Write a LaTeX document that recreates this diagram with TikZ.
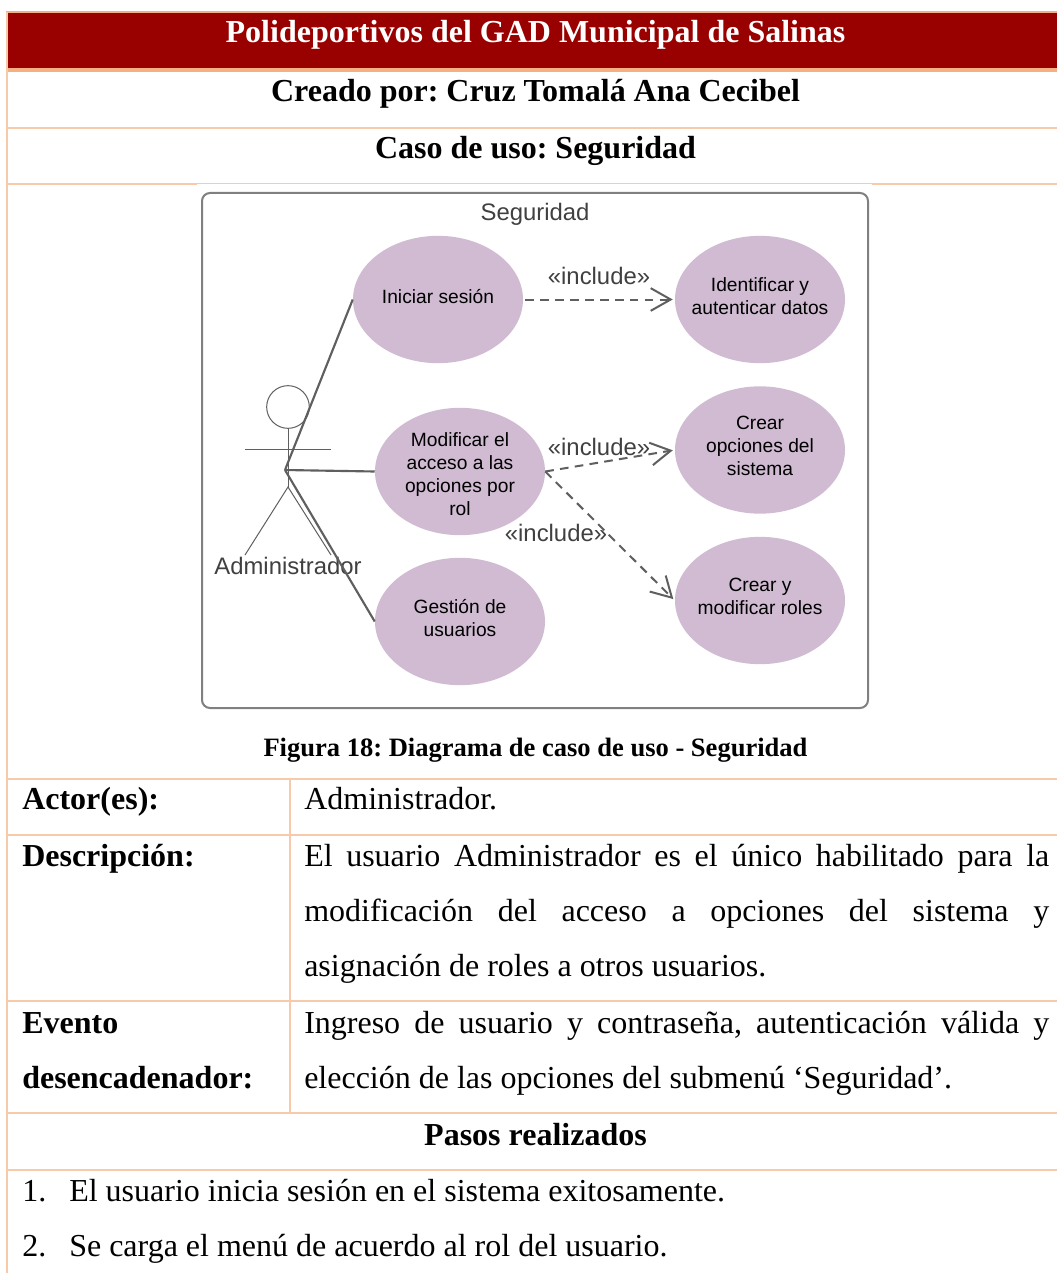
\documentclass[tikz,border=0pt]{standalone}
\usepackage{fontspec}
\setmainfont{Liberation Serif}
\setsansfont{Liberation Sans}
\usepackage{xcolor}
\usepackage{tikz}
\usetikzlibrary{shapes,positioning}
\usetikzlibrary{calc}
\usetikzlibrary{arrows.meta}
\definecolor{rojoGAD}{HTML}{990000}
\definecolor{durazno}{HTML}{F7CAAC}
\definecolor{duraznoF}{HTML}{F4B083}
\definecolor{malva}{HTML}{D0BBD2}
\definecolor{lineaUML}{HTML}{5F5F5F}
\tikzset{
	regla/.style={durazno,line width=1.5pt},
	titulo/.style={font=\fontsize{24}{28}\selectfont\bfseries,anchor=base},
	etiqueta/.style={font=\fontsize{24}{28}\selectfont\bfseries,anchor=base west,inner sep=0pt},
	cuerpo/.style={font=\fontsize{24}{28}\selectfont,anchor=base west,inner sep=0pt},
	caso/.style={ellipse,fill=malva,minimum width=127.5pt,minimum height=95.5pt,inner xsep=-20pt,inner ysep=0pt,font=\sffamily\fontsize{14.4}{17.3}\selectfont},
	diag/.style={font=\sffamily\fontsize{17.9}{20}\selectfont,text=black!75,inner sep=0pt},
	asoc/.style={lineaUML,line width=1.6pt},
	dep/.style={lineaUML,line width=1.5pt,shorten >=1.5pt,dash pattern=on 6.5pt off 4.7pt,-{Straight Barb[length=15pt,width=17pt,line width=1.5pt]}},
	figura/.style={lineaUML,line width=0.75pt}
}
\newcommand{\textocaso}[2]{\raisebox{#1}[0pt][0pt]{\begin{tabular}{@{}c@{}}#2\end{tabular}}}
\frenchspacing
\begin{document}
\begin{tikzpicture}[x=0.75pt,y=-0.75pt]
	\useasboundingbox (0,0) rectangle (1057,1273);
	\fill[white] (0,0) rectangle (1057,1273);
	
	%Cabecera
	\fill[rojoGAD] (7,13) rectangle (1057,68);
	\draw[duraznoF,line width=1.5pt] (6,12.5) -- (1057,12.5);
	\draw[duraznoF,line width=3pt] (6,70) -- (1057,70);
	
	%Lineas de la tabla
	\foreach \y in {128,779,835,1001,1113,1170}
		\draw[regla] (7,\y) -- (1057,\y);
	\draw[regla] (7,184) -- (197,184);
	\draw[durazno,line width=0.75pt] (197,184) -- (872,184);
	\draw[regla] (872,184) -- (1057,184);
	\draw[regla] (7,12) -- (7,1273);
	\draw[regla] (290,779) -- (290,1113);
	
	%Titulos
	\node[titulo,text=white] (tPoli) at (535.5,43) {Polideportivos del GAD Municipal de Salinas};
	\node[titulo] (tCreado) at (535.5,102) {Creado por: Cruz Tomalá Ana Cecibel};
	\node[titulo] (tCaso) at (535.5,159) {Caso de uso: Seguridad};
	\node[titulo] (tPasos) at (535.5,1145) {Pasos realizados};
	
	%Marco del diagrama
	\draw[black!50,line width=1.5pt,rounded corners=6pt] (202,193) rectangle (868,708);
	\node[diag,anchor=base] (lSeg) at (535,221) {Seguridad};
	
	%Casos de uso
	\node[caso] (iniciar) at (438,299.5) {\textocaso{-2.85pt}{Iniciar sesión}};
	\node[caso] (identificar) at (760,299.5) {\textocaso{-2.85pt}{Identificar y\\autenticar datos}};
	\node[caso] (modificar) at (460,471.5) {\textocaso{-7.35pt}{Modificar el\\acceso a las\\opciones por\\rol}};
	\node[caso] (crearOp) at (760,450) {\textocaso{-2.1pt}{Crear\\opciones del\\sistema}};
	\node[caso] (gestion) at (460,621.5) {\textocaso{-2.85pt}{Gestión de\\usuarios}};
	\node[caso] (crearRol) at (760,600.5) {\textocaso{-2.1pt}{Crear y\\modificar roles}};
	
	%Actor
	\node[draw=lineaUML,circle,line width=0.75pt,minimum size=32pt,inner sep=0pt] (cabeza) at (288,407) {};
	\coordinate (cadera) at (288,487);
	\coordinate (brazoI) at (245,449);
	\coordinate (brazoD) at (331,449);
	\coordinate (pieI) at (245,555);
	\coordinate (pieD) at (331,555);
	\coordinate (mano) at (285,470);
	\draw[figura] (cabeza.south) -- (cadera);
	\draw[figura] (brazoI) -- (brazoD);
	\draw[figura] (pieI) -- (cadera) -- (pieD);
	\node[diag] (lAdmin) at (288,566) {Administrador};
	
	%Asociaciones
	\draw[asoc] (mano) -- (iniciar.west);
	\draw[asoc] (mano) -- (modificar.west);
	\draw[asoc] (mano) -- (gestion.west);
	
	%Dependencias
	\draw[dep] (iniciar.east) ++(2,0) -- (identificar.west);
	\draw[dep] (modificar.east) -- (crearOp.west);
	\draw[dep] (modificar.east) -- (crearRol.west);
	\node[diag] (inc1) at (599,276) {«include»};
	\node[diag] (inc2) at (599,447) {«include»};
	\node[diag] (inc3) at (556,533) {«include»};
	
	%Pie de figura
	\node[font=\fontsize{19.9}{23}\selectfont\bfseries,anchor=base] (pie) at (535.5,756) {Figura 18: Diagrama de caso de uso - Seguridad};
	
	%Columna izquierda
	\node[etiqueta] (lActor) at (22,809) {Actor(es):};
	\node[etiqueta] (lDesc) at (22,866) {Descripción:};
	\node[etiqueta] (lEvento) at (22,1033) {Evento};
	\node[etiqueta] (lDesenc) at (22,1088) {desencadenador:};
	
	%Columna derecha
	\node[cuerpo] (cActor) at (304,809) {Administrador.};
	\node[cuerpo] (cDesc1) at (304,866) {\makebox[558.75pt][s]{El usuario Administrador es el único habilitado para la}};
	\node[cuerpo] (cDesc2) at (304,921) {\makebox[558.75pt][s]{modificación del acceso a opciones del sistema y}};
	\node[cuerpo] (cDesc3) at (304,976) {asignación de roles a otros usuarios.};
	\node[cuerpo] (cEv1) at (304,1033) {\makebox[558.75pt][s]{Ingreso de usuario y contraseña, autenticación válida y}};
	\node[cuerpo] (cEv2) at (304,1088) {elección de las opciones del submenú ‘Seguridad’.};
	
	%Pasos
	\node[cuerpo] (n1) at (22,1201) {1.};
	\node[cuerpo] (p1) at (69,1201) {El usuario inicia sesión en el sistema exitosamente.};
	\node[cuerpo] (n2) at (22,1256) {2.};
	\node[cuerpo] (p2) at (69,1256) {Se carga el menú de acuerdo al rol del usuario.};
\end{tikzpicture}
\end{document}
